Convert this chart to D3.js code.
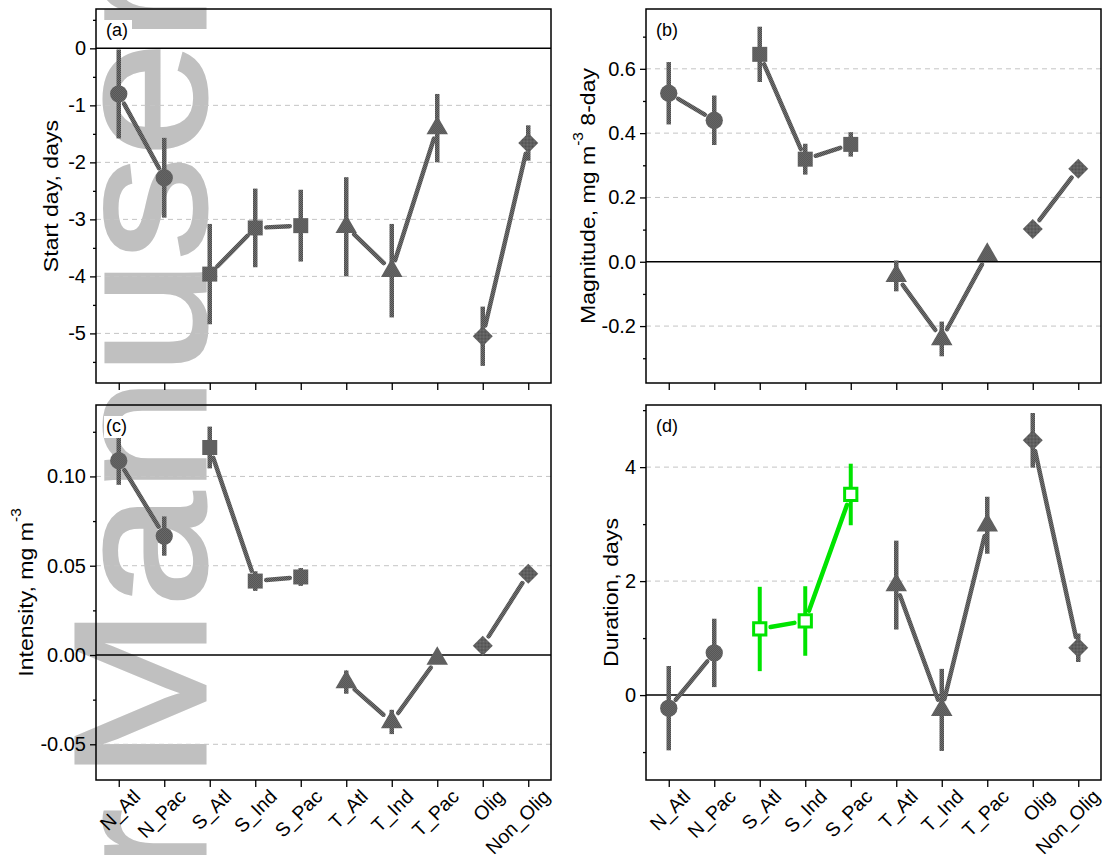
<!DOCTYPE html>
<html>
<head>
<meta charset="utf-8">
<script src="https://cdn.jsdelivr.net/npm/d3@7"></script>
<style>
  body { margin: 0; background: #fff; }
  svg { display: block; font-family: "Liberation Sans", Arial, sans-serif; }
</style>
</head>
<body>
<svg id="chart" width="1102" height="855"></svg>
<script>
// categories along the x axis
const categories = ["N_Atl", "N_Pac", "S_Atl", "S_Ind", "S_Pac", "T_Atl", "T_Ind", "T_Pac", "Olig", "Non_Olig"]
// which categories are joined, and the marker each group uses
const groups = [[0, 1], [2, 3, 4], [5, 6, 7], [8, 9]]
const groupShapes = ["circle", "square", "triangle", "diamond"]

// (a) start day
const startDay    = [-0.80, -2.27, -3.96, -3.15, -3.11, -3.13, -3.90, -1.40, -5.05, -1.66]
const startDayErr = [0.78, 0.70, 0.88, 0.69, 0.63, 0.87, 0.82, 0.60, 0.52, 0.31]
// (b) magnitude
const magnitude    = [0.524, 0.440, 0.645, 0.319, 0.365, -0.044, -0.240, 0.022, 0.102, 0.289]
const magnitudeErr = [0.097, 0.077, 0.086, 0.048, 0.038, 0.048, 0.054, 0.018, 0.008, 0.010]
// (c) intensity
const intensity    = [0.1088, 0.0666, 0.1162, 0.0414, 0.0437, -0.0152, -0.0375, -0.0020, 0.0052, 0.0455]
const intensityErr = [0.0135, 0.0110, 0.0117, 0.0055, 0.0050, 0.0065, 0.0068, 0.0030, 0.0020, 0.0020]
// (d) duration
const duration    = [-0.23, 0.74, 1.16, 1.30, 3.52, 1.93, -0.26, 2.98, 4.47, 0.83]
const durationErr = [0.74, 0.60, 0.74, 0.61, 0.54, 0.78, 0.72, 0.50, 0.48, 0.25]

// tick values
const ticksA = [0, -1, -2, -3, -4, -5], minorA = [0.5, -0.5, -1.5, -2.5, -3.5, -4.5, -5.5]
const ticksB = [0.6, 0.4, 0.2, 0.0, -0.2], minorB = [0.7, 0.5, 0.3, 0.1, -0.1, -0.3]
const ticksC = [0.10, 0.05, 0.00, -0.05], minorC = [0.125, 0.075, 0.025, -0.025]
const ticksD = [4, 2, 0], minorD = [5, 3, 1, -1]

const grey = "url(#tex)"
const green = "#00e400"

const panels = [
  { label: "(a)", values: startDay, errors: startDayErr, domain: [-5.87, 0.69], ticks: ticksA, minor: minorA,
    fmt: d => d.toFixed(0), title: [["Start day, days"]], box: [96, 9, 551, 383], titleX: 50, xLabels: false },
  { label: "(b)", values: magnitude, errors: magnitudeErr, domain: [-0.377, 0.786], ticks: ticksB, minor: minorB,
    fmt: d => d.toFixed(1), title: [["Magnitude, mg m"], ["-3", true], [" 8-day"]], box: [646, 9, 1101, 383], titleX: 587, xLabels: false },
  { label: "(c)", values: intensity, errors: intensityErr, domain: [-0.070, 0.140], ticks: ticksC, minor: minorC,
    fmt: d => d.toFixed(2), title: [["Intensity, mg m"], ["-3", true]], box: [96, 405, 551, 780], titleX: 25, xLabels: true },
  { label: "(d)", values: duration, errors: durationErr, domain: [-1.49, 5.09], ticks: ticksD, minor: minorD,
    fmt: d => d.toFixed(0), title: [["Duration, days"]], box: [646, 405, 1101, 780], titleX: 610, xLabels: true, highlight: 1 }
]

const svg = d3.select("#chart")

// stippled grey used by Origin for the markers and lines
const pat = svg.append("defs").append("pattern")
  .attr("id", "tex").attr("patternUnits", "userSpaceOnUse")
  .attr("width", 2).attr("height", 2)
pat.append("rect").attr("width", 2).attr("height", 2).attr("fill", "#737373")
pat.append("rect").attr("width", 1).attr("height", 1).attr("fill", "#4c4c4c")
pat.append("rect").attr("x", 1).attr("y", 1).attr("width", 1).attr("height", 1).attr("fill", "#4c4c4c")

// watermark, drawn first so everything sits on it (figure is a bit stretched vertically)
const wm = svg.append("text")
  .attr("transform", "translate(205,1050) scale(1,1.1) rotate(-90)")
  .attr("font-size", 188)
  .attr("fill", "#c0c0c0")
  .attr("stroke", "#c0c0c0")
  .attr("stroke-width", 3)
wm.append("tspan").text("for")
wm.append("tspan").attr("dx", -26).text(" Man")
wm.append("tspan").attr("dx", -50).text(" user")

function symbolPath(shape) {
  if (shape === "circle") return d3.symbol().type(d3.symbolCircle).size(235)()
  if (shape === "square") return d3.symbol().type(d3.symbolSquare).size(225)()
  if (shape === "triangle") return d3.symbol().type(d3.symbolTriangle).size(200)()
  return d3.symbol().type(d3.symbolSquare).size(200)()
}

panels.forEach(p => {
  const [x0, y0, x1, y1] = p.box
  const g = svg.append("g")

  const x = d3.scalePoint().domain(categories).range([x0, x1]).padding(0.5)
  const y = d3.scaleLinear().domain(p.domain).range([y1, y0])

  // dashed grid at major ticks except zero
  g.selectAll(".grid").data(p.ticks.filter(t => Math.abs(t) > 1e-9)).enter().append("line")
    .attr("x1", x0).attr("x2", x1)
    .attr("y1", d => y(d)).attr("y2", d => y(d))
    .attr("stroke", "#c4c4c4").attr("stroke-width", 1).attr("stroke-dasharray", "5,4")

  // zero line
  g.append("line").attr("x1", x0).attr("x2", x1).attr("y1", y(0)).attr("y2", y(0))
    .attr("stroke", "#000").attr("stroke-width", 1.5)

  // y axis, major and minor
  const yAxis = g.append("g").attr("transform", `translate(${x0},0)`)
    .call(d3.axisLeft(y).tickValues(p.ticks).tickSize(6).tickPadding(4).tickFormat(p.fmt))
  yAxis.select(".domain").remove()
  yAxis.selectAll("line").attr("stroke-width", 1.3)
  yAxis.selectAll("text").attr("font-size", 20).attr("fill", "#000").attr("font-family", null)
  const yMinor = g.append("g").attr("transform", `translate(${x0},0)`)
    .call(d3.axisLeft(y).tickValues(p.minor).tickSize(3).tickFormat(""))
  yMinor.select(".domain").remove()
  yMinor.selectAll("line").attr("stroke-width", 1.3)

  // x axis ticks
  const xAxis = g.append("g").attr("transform", `translate(0,${y1})`)
    .call(d3.axisBottom(x).tickSize(7).tickFormat(""))
  xAxis.select(".domain").remove()
  xAxis.selectAll("line").attr("stroke-width", 1.3)

  if (p.xLabels) {
    g.selectAll(".xl").data(categories).enter().append("text")
      .attr("transform", d => `translate(${x(d) + 13},${y1 + 8}) rotate(-45)`)
      .attr("text-anchor", "end")
      .attr("dy", "0.72em")
      .attr("font-size", 19.5)
      .text(d => d)
  }

  // frame
  g.append("rect").attr("x", x0).attr("y", y0).attr("width", x1 - x0).attr("height", y1 - y0)
    .attr("fill", "none").attr("stroke", "#000").attr("stroke-width", 1.5)

  // axis title
  const t = g.append("text")
    .attr("transform", `translate(${p.titleX},${(y0 + y1) / 2}) scale(1,1.1) rotate(-90)`)
    .attr("text-anchor", "middle")
    .attr("dominant-baseline", "central")
    .attr("font-size", 21)
  p.title.forEach(([s, sup], i) => {
    const prevSup = i > 0 && p.title[i - 1][1]
    t.append("tspan")
      .attr("font-size", sup ? 14 : 21)
      .attr("dy", sup ? "-0.6em" : (prevSup ? "0.4em" : null))
      .text(s)
  })

  // series
  groups.forEach((idx, gi) => {
    const hl = p.highlight === gi
    const col = hl ? green : grey
    const pts = idx.map(i => ({ c: categories[i], v: p.values[i], e: p.errors[i] }))

    // error bars
    g.selectAll(null).data(pts).enter().append("line")
      .attr("x1", d => x(d.c)).attr("x2", d => x(d.c))
      .attr("y1", d => y(d.v + d.e)).attr("y2", d => y(d.v - d.e))
      .attr("stroke", col).attr("stroke-width", hl ? 4 : 4.5)

    // connecting lines with a gap at each marker
    const segs = d3.pairs(pts)
    const gap = 11
    g.selectAll(null).data(segs).enter().append("line")
      .each(function ([a, b]) {
        const ax = x(a.c), ay = y(a.v), bx = x(b.c), by = y(b.v)
        const len = Math.hypot(bx - ax, by - ay)
        const ux = (bx - ax) / len, uy = (by - ay) / len
        d3.select(this)
          .attr("x1", ax + ux * gap).attr("y1", ay + uy * gap)
          .attr("x2", bx - ux * gap).attr("y2", by - uy * gap)
      })
      .attr("stroke", col).attr("stroke-width", 4.5).attr("stroke-linecap", "round")

    // markers
    const shape = groupShapes[gi]
    g.selectAll(null).data(pts).enter().append("path")
      .attr("d", hl ? d3.symbol().type(d3.symbolSquare).size(150)() : symbolPath(shape))
      .attr("transform", d => `translate(${x(d.c)},${y(d.v)})` + (shape === "diamond" ? " rotate(45)" : ""))
      .attr("fill", hl ? "#fff" : grey)
      .attr("stroke", hl ? green : "none")
      .attr("stroke-width", hl ? 3 : 0)
  })

  // panel letter on a white patch
  g.append("rect").attr("x", x0 + 8).attr("y", y0 + 11).attr("width", 28).attr("height", 22).attr("fill", "#fff")
  g.append("text").attr("x", x0 + 10).attr("y", y0 + 27).attr("font-size", 18).text(p.label)
})
</script>
</body>
</html>
